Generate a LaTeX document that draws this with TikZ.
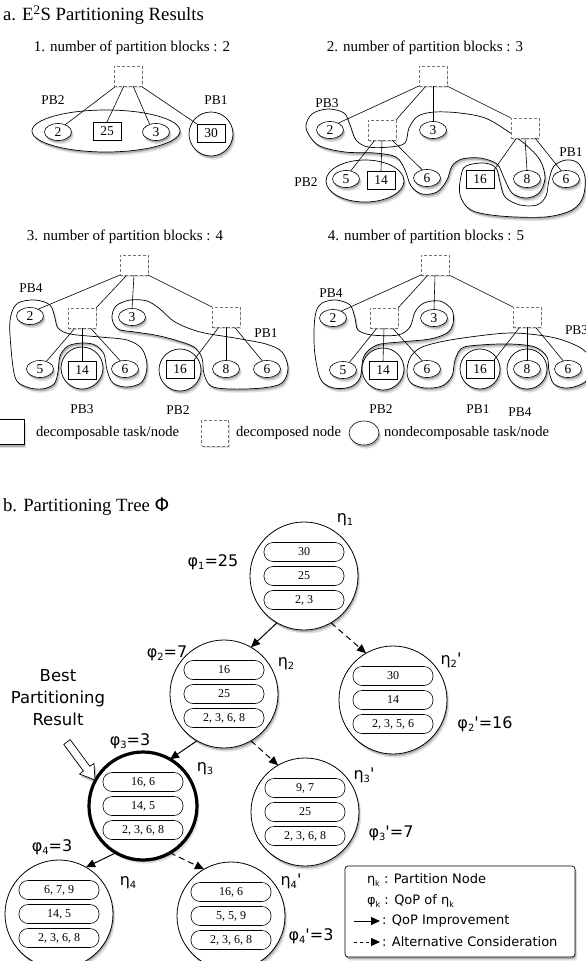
\documentclass[tikz,border=0pt]{standalone}
\usepackage{fontspec}
\usepackage{graphicx}
\setmainfont{Liberation Serif}
\newfontfamily\dv{DejaVu Sans}
\usetikzlibrary{shapes.geometric,shadows,arrows.meta}
\newcommand{\myfs}[1]{\fontsize{#1}{#1}\selectfont}
\newcommand{\mysub}[1]{\raisebox{-0.35ex}{\scalebox{0.62}{#1}}}
\pgfdeclarelayer{contourlayer}
\pgfdeclarelayer{linelayer}
\pgfsetlayers{contourlayer,linelayer,main}
\tikzset{
  shad/.style={drop shadow={shadow xshift=1pt,shadow yshift=-2pt,opacity=0.22,fill=black},
               drop shadow={shadow xshift=2.2pt,shadow yshift=-3.6pt,opacity=0.12,fill=black}},
  contour/.style={draw, fill=white, line width=0.7pt, shad},
  dbox/.style={draw=black!55, dash pattern=on 3pt off 2pt, fill=white, minimum width=28pt, minimum height=20pt, line width=0.8pt,
               drop shadow={shadow xshift=1pt,shadow yshift=-1.5pt,opacity=0.12,fill=black}},
  tsq/.style={draw, fill=white, minimum width=28pt, minimum height=18pt, line width=0.6pt, font=\myfs{13.5}},
  tell/.style={draw, ellipse, fill=white, minimum width=27pt, minimum height=17pt, line width=0.6pt, font=\myfs{13.5}, shad},
  pblab/.style={font=\myfs{13.4}},
  ptitle/.style={font=\myfs{15}},
  conn/.style={line width=0.6pt},
  tcirc/.style={draw, circle, fill=white, minimum size=108pt, line width=0.8pt, shad},
  pill/.style={draw, fill=white, rounded corners=9pt, minimum width=80pt, minimum height=19pt, line width=0.6pt, font=\myfs{12}},
  glab/.style={font=\dv\myfs{16}},
  legtxt/.style={anchor=west, font=\dv\myfs{13}},
  rowtxt/.style={anchor=west, font=\myfs{14.6}},
  solidarr/.style={line width=1pt, -{Triangle[length=9pt,width=8pt]}},
  dasharr/.style={line width=1pt, dash pattern=on 6pt off 4pt, -{Triangle[length=9pt,width=8pt]}},
}
\begin{document}
\begin{tikzpicture}[x=1pt,y=-1pt, every node/.style={inner sep=0pt,outer sep=0pt}]
\useasboundingbox (0,0) rectangle (586,961);

% ---------- titles ----------
\node[anchor=west, font=\myfs{18.7}] (ta) at (3,15) {a. E\textsuperscript{2}S Partitioning Results};
\node[ptitle] (t1) at (132,48) {1. number of partition blocks : 2};
\node[ptitle] (t2) at (425,48) {2. number of partition blocks : 3};
\node[ptitle] (t3) at (125,237) {3. number of partition blocks : 4};
\node[ptitle] (t4) at (426,237) {4. number of partition blocks : 5};

% ---------- contours ----------
\begin{pgfonlayer}{contourlayer}
% panel 1
\draw[contour] (106,131) ellipse [x radius=74pt, y radius=21pt];
\draw[contour] (211,134) circle [radius=22pt];
% panel 2
\draw[contour] plot[smooth cycle, tension=0.55] coordinates {(461,176) (466,166) (484,163) (496,168) (500,182) (505,197) (520,205) (537,205) (546,196) (549,180) (554,166) (566,160) (578,163) (585,177) (583,197) (572,210) (545,217) (500,216) (471,210) (460,195)};
\draw[contour] plot[smooth cycle, tension=0.55] coordinates {(306,128) (312,114) (328,109) (344,113) (350,125) (356,140) (368,147) (390,147) (405,143) (409,128) (418,116) (435,112) (460,113) (485,118) (506,130) (526,145) (540,160) (545,178) (539,193) (526,198) (512,193) (504,178) (497,164) (480,158) (462,159) (452,166) (447,180) (437,192) (422,194) (411,186) (405,170) (396,157) (375,153) (345,152) (318,145)};
\draw[contour] (365,181) ellipse [x radius=39pt, y radius=21pt];
% panel 3
\draw[contour] plot[smooth cycle, tension=0.55] coordinates {(10,335) (11,315) (18,303) (35,300) (50,305) (55,318) (58,328) (70,334) (100,337) (127,340) (142,349) (147,366) (142,382) (127,387) (113,383) (107,370) (104,354) (95,345) (82,343) (68,346) (60,356) (58,372) (54,384) (42,389) (27,387) (15,377)};
\draw[contour] plot[smooth cycle, tension=0.55] coordinates {(112,318) (116,306) (130,300) (147,301) (160,309) (175,322) (200,332) (235,338) (266,344) (282,352) (288,368) (282,383) (262,388) (230,389) (211,386) (204,374) (202,358) (194,347) (175,340) (155,335) (135,332) (118,329)};
\draw[contour] (82,368) circle [radius=21pt];
\draw[contour] (180,370) circle [radius=21pt];
% panel 4
\draw[contour] plot[smooth cycle, tension=0.55] coordinates {(314,330) (316,312) (322,303) (336,300) (350,305) (355,318) (358,330) (372,335) (398,335) (410,327) (415,312) (424,303) (440,301) (452,310) (453,324) (447,333) (430,339) (400,342) (377,345) (364,356) (360,378) (350,387) (334,388) (321,380) (315,355)};
\draw[contour] plot[smooth cycle, tension=0.55] coordinates {(407,372) (410,358) (420,348) (440,342) (470,337) (510,333) (545,336) (568,342) (586,352) (591,368) (585,382) (568,388) (554,384) (549,371) (547,357) (535,347) (510,344) (480,345) (462,348) (455,360) (452,376) (442,386) (425,388) (411,383)};
\draw[contour] (383,369) circle [radius=21pt];
\draw[contour] (480,369) circle [radius=20pt];
\draw[contour] (527,369) circle [radius=20pt];
\end{pgfonlayer}

% ---------- panel 1 ----------
\node[dbox] (aD) at (128,76) {};
\node[tell] (an2) at (58,132) {2};
\node[tsq] (as25) at (107,131) {25};
\node[tell] (an3) at (156,132) {3};
\node[tsq] (as30) at (211,133) {30};
\node[pblab] (apb2) at (53,100) {PB2};
\node[pblab] (apb1) at (216,100) {PB1};

% ---------- panel 2 ----------
\node[dbox] (bD) at (433,76) {};
\node[dbox] (bL) at (382,130) {};
\node[dbox] (bR) at (525,128) {};
\node[tell] (bn2) at (330,130) {2};
\node[tell] (bn3) at (433,130) {3};
\node[tell] (bn5) at (346,179) {5};
\node[tsq] (bs14) at (381,180) {14};
\node[tell] (bn6m) at (427,178) {6};
\node[tsq] (bs16) at (480,179) {16};
\node[tell] (bn8) at (527,179) {8};
\node[tell] (bn6r) at (566,179) {6};
\node[pblab] (bpb3) at (327,103) {PB3};
\node[pblab] (bpb2) at (306,182) {PB2};
\node[pblab] (bpb1) at (571,152) {PB1};

% ---------- panel 3 ----------
\node[dbox] (cD) at (134,265) {};
\node[dbox] (cL) at (82,318) {};
\node[dbox] (cR) at (226,317) {};
\node[tell] (cn2) at (30,316) {2};
\node[tell] (cn3) at (132,317) {3};
\node[tell] (cn5) at (40,369) {5};
\node[tsq] (cs14) at (82,370) {14};
\node[tell] (cn6m) at (125,369) {6};
\node[tsq] (cs16) at (180,369) {16};
\node[tell] (cn8) at (226,369) {8};
\node[tell] (cn6r) at (267,369) {6};
\node[pblab] (cpb4) at (31,288) {PB4};
\node[pblab] (cpb1) at (266,333) {PB1};
\node[pblab] (cpb3) at (82,409) {PB3};
\node[pblab] (cpb2) at (178,410) {PB2};

% ---------- panel 4 ----------
\node[dbox] (dD) at (435,265) {};
\node[dbox] (dL) at (384,318) {};
\node[dbox] (dR) at (527,317) {};
\node[tell] (dn2) at (333,318) {2};
\node[tell] (dn3) at (434,318) {3};
\node[tell] (dn5) at (343,370) {5};
\node[tsq] (ds14) at (383,370) {14};
\node[tell] (dn6m) at (427,369) {6};
\node[tsq] (ds16) at (480,369) {16};
\node[tell] (dn8) at (527,369) {8};
\node[tell] (dn6r) at (568,369) {6};
\node[pblab] (dpb4a) at (331,293) {PB4};
\node[pblab, anchor=west] (dpb3) at (565,330) {PB3};
\node[pblab] (dpb2) at (381,409) {PB2};
\node[pblab] (dpb1) at (478,409) {PB1};
\node[pblab] (dpb4b) at (520,412) {PB4};

% ---------- legend row ----------
\node[tsq, minimum width=28pt, minimum height=25pt, shad] (lsq) at (10,432) {};
\node[rowtxt] (lsqt) at (36,433) {decomposable task/node};
\node[dbox, minimum width=27pt, minimum height=26pt] (ldb) at (215,433) {};
\node[rowtxt] (ldbt) at (236,433) {decomposed node};
\node[tell, minimum width=30pt, minimum height=24pt] (lel) at (364,433) {};
\node[rowtxt] (lelt) at (384,433) {nondecomposable task/node};

% ---------- part b ----------
\node[anchor=west, font=\myfs{18.7}] (tb) at (3,507) {b. Partitioning Tree {\dv Φ}};

\node[tcirc] (e1) at (304,576) {};
\node[pill] (e1a) at (304,552) {30};
\node[pill] (e1b) at (304,576) {25};
\node[pill] (e1c) at (304,600) {2, 3};

\node[tcirc] (e2) at (224,694) {};
\node[pill] (e2a) at (224,670) {16};
\node[pill] (e2b) at (224,694) {25};
\node[pill] (e2c) at (224,718) {2, 3, 6, 8};

\node[tcirc] (e2p) at (393,700) {};
\node[pill] (e2pa) at (393,676) {30};
\node[pill] (e2pb) at (393,700) {14};
\node[pill] (e2pc) at (393,724) {2, 3, 5, 6};

\node[tcirc, line width=3.2pt] (e3) at (143,806) {};
\node[pill] (e3a) at (143,782) {16, 6};
\node[pill] (e3b) at (143,806) {14, 5};
\node[pill] (e3c) at (143,830) {2, 3, 6, 8};

\node[tcirc] (e3p) at (305,812) {};
\node[pill] (e3pa) at (305,788) {9, 7};
\node[pill] (e3pb) at (305,812) {25};
\node[pill] (e3pc) at (305,836) {2, 3, 6, 8};

\node[tcirc] (e4) at (59,914) {};
\node[pill] (e4a) at (59,890) {6, 7, 9};
\node[pill] (e4b) at (59,914) {14, 5};
\node[pill] (e4c) at (59,938) {2, 3, 6, 8};

\node[tcirc] (e4p) at (231,916) {};
\node[pill] (e4pa) at (231,892) {16, 6};
\node[pill] (e4pb) at (231,916) {5, 5, 9};
\node[pill] (e4pc) at (231,940) {2, 3, 6, 8};

% labels
\node[glab] (l1) at (345,520) {η\mysub{1}};
\node[glab] (f1) at (213,562) {φ\mysub{1}=25};
\node[glab] (l2) at (286,664) {η\mysub{2}};
\node[glab] (f2) at (167,653) {φ\mysub{2}=7};
\node[glab] (l2p) at (451,660) {η\mysub{2}\textquotesingle};
\node[glab] (f2p) at (485,724) {φ\mysub{2}\textquotesingle=16};
\node[glab] (l3) at (205,769) {η\mysub{3}};
\node[glab] (f3) at (130,741) {φ\mysub{3}=3};
\node[glab] (l3p) at (364,775) {η\mysub{3}\textquotesingle};
\node[glab] (f3p) at (391,833) {φ\mysub{3}\textquotesingle=7};
\node[glab] (l4) at (128,883) {η\mysub{4}};
\node[glab] (f4) at (52,847) {φ\mysub{4}=3};
\node[glab] (l4p) at (291,881) {η\mysub{4}\textquotesingle};
\node[glab] (f4p) at (311,936) {φ\mysub{4}\textquotesingle=3};

\node[align=center, font=\dv\fontsize{16.5}{22}\selectfont] (best) at (58,698) {Best\\Partitioning\\Result};
\draw[fill=white, line width=0.7pt, shad] (70.2,739.6) -- (89.9,766.3) -- (94.0,763.4) -- (95,780) -- (79.5,774.0) -- (83.5,771.1) -- (63.8,744.4) -- cycle;

% legend box
\node[draw, fill=white, rounded corners=3pt, line width=0.7pt, minimum width=230pt, minimum height=91pt, shad] (leg) at (460,911.5) {};
\node[legtxt] (k1) at (367,880) {η\mysub{k} : Partition Node};
\node[legtxt] (k2) at (367,901) {φ\mysub{k} : QoP of η\mysub{k}};
\coordinate (a3s) at (354,921);
\coordinate (a3e) at (380,921);
\node[legtxt] (k3) at (382,921) {: QoP Improvement};
\coordinate (a4s) at (354,942);
\coordinate (a4e) at (380,942);
\node[legtxt] (k4) at (382,942) {: Alternative Consideration};
\draw[solidarr] (a3s) -- (a3e);
\draw[dasharr, dash pattern=on 3pt off 3pt] (a4s) -- (a4e);

% ---------- connectors ----------
\begin{pgfonlayer}{linelayer}
\draw[conn] (aD.-140) -- (an2.45);
\draw[conn] (aD.-112) -- (as25.north);
\draw[conn] (aD.-63) -- (an3.130);
\draw[conn] (aD.-38) -- (as30.north west);

\draw[conn] (bD.south west) -- (bn2.40);
\draw[conn] (bD.-125) -- (bL.north east);
\draw[conn] (bD.south) -- (bn3.north);
\draw[conn] (bD.south east) -- (bR.north west);
\draw[conn] (bL.-125) -- (bn5.60);
\draw[conn] (bL.south) -- (bs14.north);
\draw[conn] (bL.-45) -- (bn6m.120);
\draw[conn] (bR.-130) -- (bs16.north east);
\draw[conn] (bR.south) -- (bn8.north);
\draw[conn] (bR.-45) -- (bn6r.120);

\draw[conn] (cD.south west) -- (cn2.40);
\draw[conn] (cD.-125) -- (cL.north east);
\draw[conn] (cD.south) -- (cn3.north);
\draw[conn] (cD.south east) -- (cR.north west);
\draw[conn] (cL.-125) -- (cn5.50);
\draw[conn] (cL.south) -- (cs14.north);
\draw[conn] (cL.-50) -- (cn6m.120);
\draw[conn] (cR.-125) -- (cs16.north east);
\draw[conn] (cR.south) -- (cn8.north);
\draw[conn] (cR.-50) -- (cn6r.120);

\draw[conn] (dD.south west) -- (dn2.40);
\draw[conn] (dD.-125) -- (dL.north east);
\draw[conn] (dD.south) -- (dn3.north);
\draw[conn] (dD.south east) -- (dR.north west);
\draw[conn] (dL.-125) -- (dn5.50);
\draw[conn] (dL.south) -- (ds14.north);
\draw[conn] (dL.-50) -- (dn6m.120);
\draw[conn] (dR.-125) -- (ds16.north east);
\draw[conn] (dR.south) -- (dn8.north);
\draw[conn] (dR.-50) -- (dn6r.120);

\draw[solidarr] (e1.240) -- (e2.60);
\draw[dasharr] (e1.-60) -- (e2p.120);
\draw[solidarr] (e2.240) -- (e3.60);
\draw[dasharr] (e2.-60) -- (e3p.120);
\draw[solidarr] (e3.240) -- (e4.60);
\draw[dasharr] (e3.-60) -- (e4p.120);
\end{pgfonlayer}
\end{tikzpicture}
\end{document}
